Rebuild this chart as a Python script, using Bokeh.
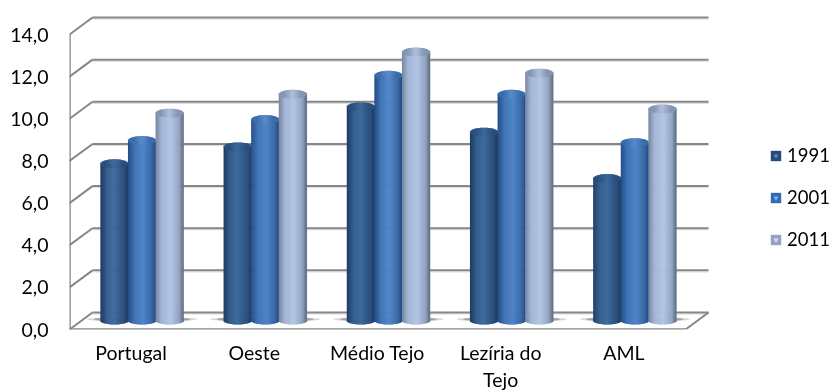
from bokeh.plotting import figure
from bokeh.models import (FixedTicker, Legend, LegendItem, Range1d)
from bokeh.embed import file_html
from bokeh.resources import INLINE

categories = ["Portugal", "Oeste", "Médio Tejo", "Lezíria do\nTejo", "AML"]
years = ["1991", "2001", "2011"]
v1991 = [7.6, 8.4, 10.3, 9.1, 6.9]
v2001 = [8.7, 9.7, 11.8, 10.9, 8.6]
v2011 = [10.0, 10.9, 12.9, 11.9, 10.2]
y_ticks = [0, 2, 4, 6, 8, 10, 12, 14]
y_labels = ["0,0", "2,0", "4,0", "6,0", "8,0", "10,0", "12,0", "14,0"]

W, H = 831, 390
L, R, T, B = 69, 708, 15, 329
PXU = 21.07          # pixels per value unit
CATW = 123.2         # pixels per category
DX, DY = 23 / CATW, 17 / PXU    # depth of the 3D box, in data units
xwall = (R - L) / CATW          # right end of the walls
xmax = (W - L) / CATW           # frame runs to the page edge so the legend sits inside it
ymax = (B - T) / PXU
BASE = 5.7 / PXU     # value zero of the bars, slightly behind the front edge
FOOT = 8.5 / PXU     # centre of the bars' rounded foot
GROUP_SHIFT = 11 / CATW
BARW = 27.6 / CATW
CAP = 4.4 / PXU      # half height of the top cap
FOOT_CAP = 3.5 / PXU # half height of the rounded foot

p = figure(frame_width=W - L, frame_height=B - T, output_backend="svg", toolbar_location=None,
           x_range=Range1d(0, xmax), y_range=Range1d(0, ymax),
           min_border_left=L, min_border_right=0, min_border_top=T, min_border_bottom=0,
           outline_line_color=None, background_fill_color="white", border_fill_color="white")
p.styles = {"position": "fixed", "left": "0px", "top": "0px"}
p.grid.visible = False

FS = "19.5px"
xa = p.xaxis[0]
xa.ticker = FixedTicker(ticks=[i + .5 for i in range(len(categories))])
xa.major_label_overrides = {i + .5: c for i, c in enumerate(categories)}
ya = p.yaxis[0]
ya.ticker = FixedTicker(ticks=y_ticks)
ya.major_label_overrides = dict(zip(y_ticks, y_labels))
for a in (xa, ya):
    a.axis_line_color = None
    a.major_tick_line_color = None
    a.minor_tick_line_color = None
    a.major_tick_out = 0
    a.major_tick_in = 0
    a.major_label_text_font = "Lato"
    a.major_label_text_color = "#000000"
    a.major_label_text_font_size = FS
xa.major_label_standoff = 11
ya.major_label_standoff = 21

GRID = "#868686"
SHADE = "#dcdcdc"
nt = len(y_ticks)
wall_y = [t + DY for t in y_ticks]
# soft shadow below wall lines, then the lines
p.segment(x0=[DX] * nt, x1=[xwall] * nt, y0=[w - 1.6 / PXU for w in wall_y], y1=[w - 1.6 / PXU for w in wall_y],
          line_color=SHADE, line_width=1)
p.segment(x0=[DX] * nt, x1=[xwall] * nt, y0=wall_y, y1=wall_y, line_color=GRID, line_width=2)
p.segment(x0=[0] * nt, x1=[DX] * nt, y0=y_ticks, y1=wall_y, line_color=GRID, line_width=2)
p.segment(x0=[0], x1=[0], y0=[0], y1=[14], line_color=GRID, line_width=2.5)
p.segment(x0=[0], x1=[len(categories)], y0=[0], y1=[0], line_color=GRID, line_width=2.5)
p.segment(x0=[len(categories)], x1=[xwall], y0=[0], y1=[DY], line_color=GRID, line_width=2)

# floor shadows
centres = [i + .5 + GROUP_SHIFT for i in range(5)]
p.ellipse(x=centres, y=[BASE + 4.5 / PXU] * 5, width=110 / CATW, height=5 / PXU,
          fill_color="#bdbdbd", line_color=None, fill_alpha=.6)
p.ellipse(x=centres, y=[BASE + 4.5 / PXU] * 5, width=97 / CATW, height=5 / PXU,
          fill_color="#8c8c8c", line_color=None, fill_alpha=.7)

RAMPS = {
    "1991": [(0, "#1d3b62"), (.25, "#35608f"), (.5, "#3e6a9c"), (.85, "#2b4f7e"), (1, "#1e3b62")],
    "2001": [(0, "#234d85"), (.25, "#4275b5"), (.55, "#4f85c8"), (.85, "#3a69a6"), (1, "#244c82")],
    "2011": [(0, "#76859f"), (.22, "#a4b6d6"), (.55, "#b3c5e5"), (.85, "#94a4c0"), (1, "#5f6d86")],
}
CAPS = {"1991": ("#2a4f7f", "#426fa3"), "2001": ("#3b6cab", "#6094d6"), "2011": ("#8494b2", "#bccbe6")}


def hexmix(c0, c1, f):
    a = [int(c0[i:i + 2], 16) for i in (1, 3, 5)]
    b = [int(c1[i:i + 2], 16) for i in (1, 3, 5)]
    return "#%02x%02x%02x" % tuple(round(x + (y - x) * f) for x, y in zip(a, b))


def ramp_colour(r, t):
    for (t0, c0), (t1, c1) in zip(r, r[1:]):
        if t <= t1:
            return hexmix(c0, c1, (t - t0) / (t1 - t0))
    return r[-1][1]


N = 28
SW = BARW / N
series = [("1991", v1991, 0), ("2001", v2001, 1), ("2011", v2011, 2)]
for cat in range(len(categories)):
    for yr, vals, k in series:
        cx = cat + .5 + GROUP_SHIFT + (k - 1) * BARW
        v = vals[cat]
        xs, tops, bots, cols, ctops, cbots, ccols = [], [], [], [], [], [], []
        for s in range(N):
            t = (s + .5) / N
            e = (1 - (2 * t - 1) ** 2) ** .5
            xs.append(cx - BARW / 2 + t * BARW)
            tops.append(BASE + v)
            bots.append(FOOT - FOOT_CAP * e)
            cols.append(ramp_colour(RAMPS[yr], t))
            ctops.append(BASE + v + CAP * e)
            cbots.append(BASE + v - CAP * e)
            ccols.append(hexmix(CAPS[yr][0], CAPS[yr][1], max(0, 1 - abs(2 * t - 1) * 1.6) * .8))
        # strips overlap so that no seams show through between them
        p.vbar(x=xs, top=tops, bottom=bots, width=SW * 1.7, fill_color=cols, line_color=None)
        p.vbar(x=xs, top=ctops, bottom=cbots, width=SW * 1.7, fill_color=ccols, line_color=None)

# legend: proxy renderers carrying only NaN, so that they draw nothing but the key
nan = float("nan")
items = []
LEG = {"1991": ("#254a79", "#5f86b5"), "2001": ("#2f6cb0", "#7fb0e4"), "2011": ("#93a3c0", "#d5dfef")}
for yr in years:
    r1 = p.vbar(x=[nan], top=[nan], bottom=[nan], width=.1, fill_color=LEG[yr][0], line_color=None)
    r2 = p.scatter(x=[nan], y=[nan], size=5, marker="inverted_triangle", fill_color=LEG[yr][1], line_color=None)
    items.append(LegendItem(label=yr, renderers=[r1, r2]))
legend = Legend(items=items, location=(769 - L, 78), orientation="vertical",
                glyph_width=13, glyph_height=13, label_standoff=5, spacing=18, padding=0, margin=0,
                label_text_font="Lato", label_text_font_size="18.5px", label_text_color="#000000",
                label_height=24, border_line_color=None, background_fill_alpha=0)
p.add_layout(legend, "center")

open("out.html", "w").write(file_html(p, INLINE))
